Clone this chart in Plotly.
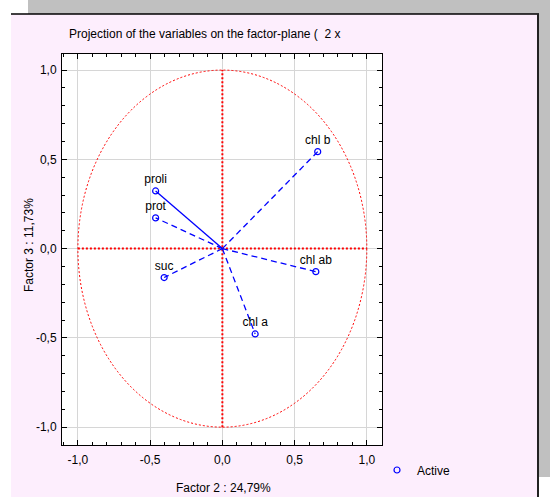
import plotly.graph_objects as go

# ---- data ----
variables = ["chl b", "proli", "prot", "suc", "chl ab", "chl a"]
factor2 = [0.66, -0.462, -0.462, -0.403, 0.647, 0.227]
factor3 = [0.543, 0.323, 0.172, -0.162, -0.129, -0.478]
line_styles = ["6px,4px", "solid", "6px,4px", "6px,4px", "6px,4px", "6px,4px"]
tick_vals = [-1.0, -0.5, 0.0, 0.5, 1.0]
tick_text = ["-1,0", "-0,5", "0,0", "0,5", "1,0"]

W, H = 550, 497
L, R, T, B = 62, 382, 54, 445


def px(x):
    return (x - L) / (R - L)


def py(y):
    return (B - y) / (B - T)


FONT = "Liberation Sans, Arial, sans-serif"
BLUE = "#0000FF"
RED = "#FF0000"
PINK = "#FDEEFD"
GRAY = "#C0C0C0"

fig = go.Figure()

for name, x, y, ls in zip(variables, factor2, factor3, line_styles):
    fig.add_trace(go.Scatter(
        x=[0, x], y=[0, y], mode="lines",
        line=dict(color=BLUE, width=1.3, dash=ls),
        showlegend=False, hoverinfo="skip"))

fig.add_trace(go.Scatter(
    x=factor2, y=factor3, mode="markers+text", text=variables,
    textposition="top center",
    textfont=dict(family=FONT, size=12, color="black"),
    marker=dict(symbol="circle-open", size=6, color=BLUE, line=dict(width=1.2, color=BLUE)),
    showlegend=False))

fig.add_trace(go.Scatter(
    x=[None], y=[None], mode="markers", name="Active",
    marker=dict(symbol="circle-open", size=6, color=BLUE, line=dict(width=1.2, color=BLUE))))

shapes = [
    # background decorations (outside the plot area)
    dict(type="rect", xref="paper", yref="paper", x0=px(-5), x1=px(11), y0=py(-5), y1=py(H + 5),
         fillcolor="white", line=dict(width=0), layer="below"),
    dict(type="rect", xref="paper", yref="paper", x0=px(28), x1=px(W + 5), y0=py(-5), y1=py(14),
         fillcolor=GRAY, line=dict(width=0), layer="below"),
    dict(type="rect", xref="paper", yref="paper", x0=px(-5), x1=px(28), y0=py(-5), y1=py(14),
         fillcolor="white", line=dict(width=0), layer="below"),
    dict(type="rect", xref="paper", yref="paper", x0=px(539), x1=px(W + 5), y0=py(-5), y1=py(477),
         fillcolor=GRAY, line=dict(width=0), layer="below"),
    dict(type="rect", xref="paper", yref="paper", x0=px(539), x1=px(W + 5), y0=py(477), y1=py(H + 5),
         fillcolor="white", line=dict(width=0), layer="below"),
    dict(type="line", xref="paper", yref="paper", x0=px(11), x1=px(539), y0=py(14), y1=py(14),
         line=dict(color="black", width=1.5)),
    dict(type="line", xref="paper", yref="paper", x0=px(538), x1=px(538), y0=py(14), y1=py(H + 5),
         line=dict(color="#222222", width=2)),
    # circle & axes in data coords
    dict(type="circle", xref="x", yref="y", x0=-1, x1=1, y0=-1, y1=1,
         line=dict(color=RED, width=1, dash="2px,2px"), layer="between"),
    dict(type="line", xref="x", yref="y", x0=-1, x1=1, y0=0, y1=0,
         line=dict(color=RED, width=2, dash="2px,2px"), layer="between"),
    dict(type="line", xref="x", yref="y", x0=0, x1=0, y0=-1, y1=1,
         line=dict(color=RED, width=2, dash="2px,2px"), layer="between"),
]

axis_common = dict(
    tickvals=tick_vals, ticktext=tick_text,
    showgrid=True, gridcolor="#D6D6D6", gridwidth=1,
    zeroline=False, showline=True, linecolor="black", linewidth=1, mirror="ticks",
    ticks="inside", ticklen=5, tickcolor="black",
    minor=dict(dtick=0.1, ticks="inside", ticklen=3, tickcolor="black", showgrid=False),
    tickfont=dict(family=FONT, size=12, color="black"),
)

fig.update_layout(
    width=W, height=H,
    margin=dict(l=L, r=W - R, t=T, b=H - B),
    paper_bgcolor=PINK, plot_bgcolor="white",
    xaxis=dict(range=[-1.11, 1.105], ticklabelstandoff=4, **axis_common),
    yaxis=dict(range=[-1.1, 1.09], ticklabelstandoff=2, **axis_common),
    shapes=shapes,
    showlegend=True,
    legend=dict(x=px(377), y=py(470), xanchor="left", yanchor="middle",
                bgcolor="rgba(0,0,0,0)", borderwidth=0,
                font=dict(family=FONT, size=12, color="black")),
    annotations=[
        dict(text="Projection of the variables on the factor-plane (  2 x", xref="paper", yref="paper",
             x=px(67), y=py(34), xanchor="left", yanchor="middle", showarrow=False,
             font=dict(family=FONT, size=12, color="black")),
        dict(text="Factor 2 : 24,79%", xref="paper", yref="paper",
             x=px(223), y=py(488), xanchor="center", yanchor="middle", showarrow=False,
             font=dict(family=FONT, size=12, color="black")),
        dict(text="Factor 3 : 11,73%", xref="paper", yref="paper", textangle=-90,
             x=px(29), y=py(245), xanchor="center", yanchor="middle", showarrow=False,
             font=dict(family=FONT, size=12, color="black")),
    ],
)

fig.write_html("out.html", config={"displayModeBar": False},
               post_script="document.body.style.margin='0px';document.body.style.overflow='hidden';")
